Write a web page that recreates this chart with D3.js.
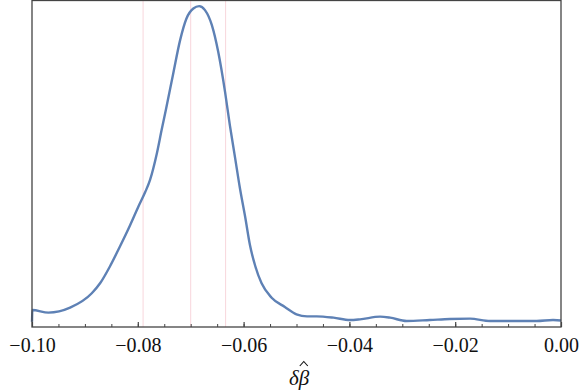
<!DOCTYPE html>
<html lang="en">
<head>
<meta charset="utf-8">
<title></title>
<style>
  body { margin: 0; background: #fff; }
  svg text { font-family: "Liberation Serif", "DejaVu Serif", serif; }
</style>
</head>
<body>
<div id="graph-div"></div>
<script src="https://d3js.org/d3.v7.min.js"></script>
<script>
// density curve
var xs = [-0.1, -0.09994, -0.0969, -0.0928, -0.0887, -0.0871, -0.0853, -0.0834, -0.0815, -0.0799,
  -0.0786, -0.0777, -0.0764, -0.0755, -0.0747, -0.0733, -0.0720, -0.0708, -0.0695, -0.0684,
  -0.0673, -0.0660, -0.0648, -0.0635, -0.0626, -0.0616, -0.0607, -0.0597, -0.0588, -0.0578,
  -0.0566, -0.0547, -0.0522, -0.0500, -0.0480, -0.0462, -0.0430, -0.0399, -0.0380,
  -0.0342, -0.0323, -0.0292, -0.0248, -0.0210, -0.0172, -0.0134, -0.0084, -0.0046, -0.0015, 0.0];
var ys = [0.8, 2.55, 2.15, 2.9, 5.06, 6.6, 9.05, 12.05, 15.2, 18.05,
  20.25, 22.05, 26.05, 29.55, 32.55, 38.05, 43.05, 46.3, 47.8, 48.15,
  47.55, 45.3, 41.3, 35.25, 30.3, 25.35, 20.85, 16.5, 12.3, 9.15,
  6.55, 4.4, 3.0, 1.9, 1.6, 1.6, 1.4, 1.05, 1.15,
  1.55, 1.4, 0.9, 1.05, 1.2, 1.25, 0.9, 0.9, 0.9, 1.05, 0.98];
var markers = [-0.079, -0.070, -0.0634];
var majorTicks = [-0.10, -0.08, -0.06, -0.04, -0.02, 0.00];
var xLabel = ["δ", "β"];

var W = 581, H = 390;
var margin = {top: 0.5, right: 20, bottom: 63, left: 32};
var width = W - margin.left - margin.right,
    height = H - margin.top - margin.bottom;

var svg = d3.select("#graph-div").append("svg")
    .attr("width", W).attr("height", H)
  .append("g")
    .attr("transform", "translate(" + margin.left + "," + margin.top + ")");

var x = d3.scaleLinear().domain([-0.1, 0]).range([0, width]);
var y = d3.scaleLinear().domain([0, 49]).range([height, 0]);

// pink marker lines
svg.selectAll(".marker")
  .data(markers)
  .enter().append("line")
    .attr("x1", function(d) { return x(d); })
    .attr("x2", function(d) { return x(d); })
    .attr("y1", 0).attr("y2", height)
    .style("stroke", "#f8d6dc")
    .style("stroke-width", 1);

var data = xs.map(function(v, i) { return [v, ys[i]]; });
svg.append("path")
  .datum(data)
  .attr("fill", "none")
  .attr("stroke", "#5e81b5")
  .attr("stroke-width", 2.4)
  .attr("d", d3.line()
    .x(function(d) { return x(d[0]); })
    .y(function(d) { return y(d[1]); })
    .curve(d3.curveMonotoneX));

// frame
svg.append("rect")
  .attr("x", 0).attr("y", 0)
  .attr("width", width).attr("height", height)
  .attr("fill", "none")
  .attr("stroke", "#444")
  .attr("stroke-width", 1.3);

// minor ticks
var minor = svg.append("g")
  .attr("transform", "translate(0," + height + ")")
  .call(d3.axisBottom(x).tickValues(d3.range(-0.1, 0.0001, 0.005)).tickSize(-3).tickFormat(""));
minor.select(".domain").remove();
minor.selectAll("line").attr("stroke", "#444");

// major ticks with labels
var major = svg.append("g")
  .attr("transform", "translate(0," + height + ")")
  .call(d3.axisBottom(x).tickValues(majorTicks).tickSize(-5).tickPadding(11)
    .tickFormat(d3.format(".2f")));
major.select(".domain").remove();
major.selectAll("line").attr("stroke", "#444").attr("stroke-width", 1.2);
major.selectAll("text")
  .attr("font-family", "Liberation Serif")
  .attr("font-size", 20)
  .attr("fill", "#111");

// axis title: delta beta-hat
var tx = x(-0.0495), ty = height + 58;
var title = svg.append("text")
  .attr("x", tx)
  .attr("y", ty)
  .attr("text-anchor", "middle")
  .attr("font-size", 21)
  .attr("font-style", "italic")
  .attr("fill", "#111")
  .text(xLabel.join(""));
var bb = title.node().getBBox();
var hx = bb.x + bb.width - 6;
// the hat over beta
svg.append("path")
  .attr("d", "M" + (hx - 4) + "," + (ty - 19) + "L" + hx + "," + (ty - 23.5) + "L" + (hx + 4) + "," + (ty - 19))
  .attr("fill", "none")
  .attr("stroke", "#111")
  .attr("stroke-width", 1.1);
</script>
</body>
</html>
